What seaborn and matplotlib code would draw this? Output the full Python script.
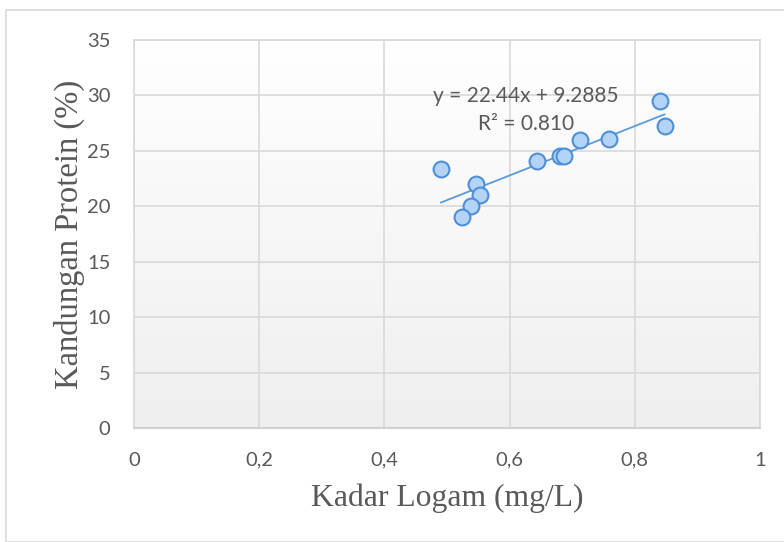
import numpy as np
import pandas as pd
import seaborn as sns
import matplotlib
matplotlib.use("Agg")
import matplotlib.pyplot as plt
from matplotlib.patches import Rectangle
from matplotlib.colors import LinearSegmentedColormap

# Data
kadar_logam = [0.490, 0.546, 0.553, 0.538, 0.524, 0.643, 0.681, 0.687, 0.713, 0.759, 0.841, 0.848]
protein = [23.35, 22.0, 21.0, 20.0, 19.05, 24.1, 24.5, 24.5, 26.0, 26.05, 29.5, 27.2]
x_ticks = [0, 0.2, 0.4, 0.6, 0.8, 1.0]
x_tick_labels = ["0", "0,2", "0,4", "0,6", "0,8", "1"]
y_ticks = [0, 5, 10, 15, 20, 25, 30, 35]
eq_text = "y = 22.44x + 9.2885"
r2_text = "R² = 0.810"

df = pd.DataFrame({"x": kadar_logam, "y": protein})

sns.set_theme(style="white")
plt.rcParams['font.family'] = ['Lato', 'DejaVu Sans']

fig = plt.figure(figsize=(7.84, 5.42), dpi=100)
ax = fig.add_axes([134/784, 1-428/542, (760-134)/784, (428-40)/542])

# chart border
fig.patches.append(Rectangle((6/784, 0.0), 1.0, 1-10/542, transform=fig.transFigure,
                             fill=False, edgecolor="#d9d9d9", linewidth=1.2))

# gradient background
grad = np.linspace(0, 1, 256).reshape(-1, 1)
cmap = LinearSegmentedColormap.from_list("g", ["#ffffff", "#efefef"])
ax.imshow(grad, extent=[0, 1, 0, 35], aspect="auto", cmap=cmap, origin="upper", zorder=0)

sns.regplot(data=df, x="x", y="y", ax=ax, ci=None, truncate=True,
            scatter_kws=dict(s=130, color="#b3d4f7", edgecolor="#4f8fd6", linewidths=1.5, alpha=1, zorder=3),
            line_kws=dict(color="#5b9bd5", linewidth=1.3, zorder=2))

ax.set_xlim(0, 1)
ax.set_ylim(0, 35)
ax.set_xticks(x_ticks)
ax.set_xticklabels(x_tick_labels)
ax.set_yticks(y_ticks)
ax.grid(True, color="#d9d9d9", linewidth=1.2, zorder=1)
ax.set_axisbelow(True)
for s in ["top", "right", "left"]:
    ax.spines[s].set_color("#d9d9d9")
    ax.spines[s].set_linewidth(1.2)
ax.spines["bottom"].set_color("#d0d0d0")
ax.spines["bottom"].set_linewidth(1.5)

ax.tick_params(axis="both", length=0, labelsize=14.5, labelcolor="#595959")
ax.tick_params(axis="y", pad=17)
ax.tick_params(axis="x", pad=17)

ax.set_xlabel("Kadar Logam (mg/L)", family="Liberation Serif", fontsize=22.8, color="#595959", labelpad=11)
ax.set_ylabel("Kandungan Protein (%)", family="Liberation Serif", fontsize=23.5, color="#595959", labelpad=1)

ax.text(0.626, 29.95, eq_text, ha="center", va="center", fontsize=15, color="#595959", zorder=4)
ax.text(0.626, 27.42, r2_text, ha="center", va="center", fontsize=15, color="#595959", zorder=4)

fig.savefig("out.png", dpi=100)
